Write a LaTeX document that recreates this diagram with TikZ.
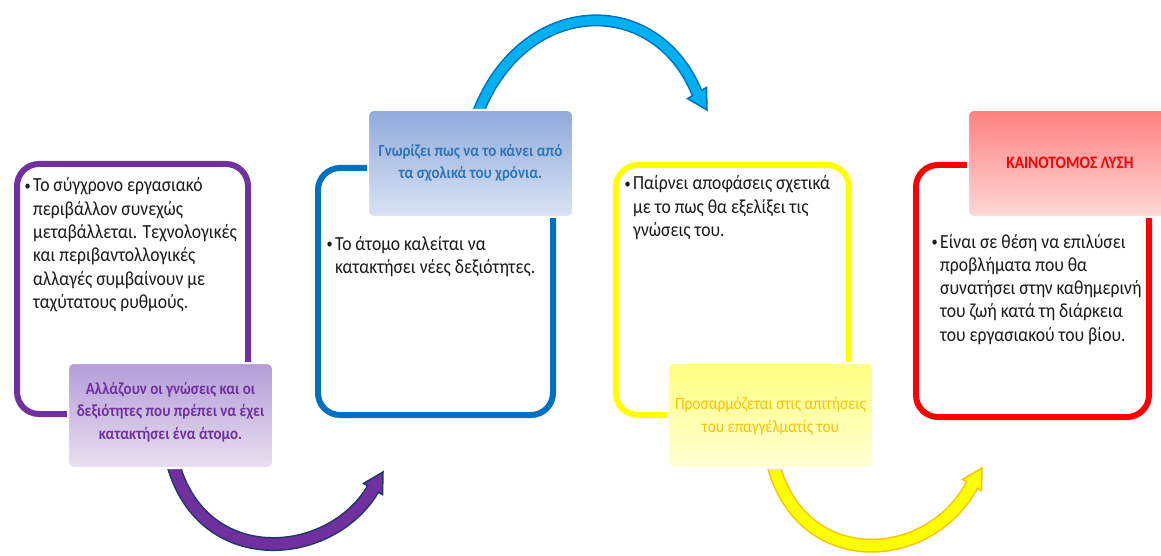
\documentclass[tikz,border=0pt]{standalone}
\usepackage{fontspec}
\setmainfont{Carlito}[FakeStretch=0.88]
\definecolor{cpur}{HTML}{7030A0}
\definecolor{cnavy}{HTML}{1F3864}
\definecolor{cblue}{HTML}{0070C0}
\definecolor{csky}{HTML}{00B0F0}
\definecolor{cyel}{HTML}{FFFF00}
\definecolor{corg}{HTML}{FFC000}
\definecolor{cred}{HTML}{FF0000}
\definecolor{cbtxt}{HTML}{2E75B6}
\definecolor{lpA}{HTML}{B49CD8}\definecolor{lpB}{HTML}{E8E0F0}
\definecolor{lbA}{HTML}{8FAADC}\definecolor{lbB}{HTML}{DAE3F3}
\definecolor{lyA}{HTML}{FFFF80}\definecolor{lyB}{HTML}{FFFFD5}
\definecolor{lrA}{HTML}{FF8080}\definecolor{lrB}{HTML}{FFD8D8}
\newcommand{\bodytext}[1]{\parbox[t]{230pt}{\raggedright #1}}
\tikzset{
  bigbox/.style={draw, line width=6pt, rounded corners=22pt, fill=white, inner sep=0pt},
  lbl/.style={rounded corners=6pt, draw=white, line width=2pt, inner sep=0pt, minimum width=205pt, shading angle=45},
  body/.style={font=\fontsize{20}{23.3}\selectfont, inner sep=0pt, anchor=base west, text=black!90},
  bul/.style={font=\fontsize{14}{14}\selectfont, inner sep=0pt, anchor=base west, text=black!90},
  lbltext/.style={align=center, inner sep=0pt, font=\bfseries\fontsize{17}{22.5}\selectfont},
}
\begin{document}
\begin{tikzpicture}[x=1pt,y=1pt]
\useasboundingbox (0,0) rectangle (1161,555);
\clip (0,0) rectangle (1161,555);
% ---------- arrows ----------
% purple
\coordinate (pa0) at (172,95);  \coordinate (pa1) at (200,-17);
\coordinate (pa2) at (330,-7);  \coordinate (pa3) at (373,66);
\coordinate (pa4) at (374.5,68.6); \coordinate (ptip) at (383,83);
\coordinate (pc1) at (363.5,71.6); \coordinate (pc2) at (382.5,60.4);
\draw[line width=14pt, cnavy] (pa0) .. controls (pa1) and (pa2) .. (pa3);
\filldraw[fill=cpur, draw=cnavy, line width=1.5pt] (pc1) -- (ptip) -- (pc2) -- cycle;
\draw[line width=11pt, cpur] (pa0) .. controls (pa1) and (pa2) .. (pa3) -- (pa4);
% blue
\coordinate (ba0) at (476,437);  \coordinate (ba1) at (520,560);
\coordinate (ba2) at (655,565);  \coordinate (ba3) at (697,462);
\coordinate (ba4) at (698.5,459.4); \coordinate (btip) at (707,445);
\coordinate (bc1) at (706.5,467.6); \coordinate (bc2) at (687.5,456.4);
\draw[line width=12pt, cblue] (ba0) .. controls (ba1) and (ba2) .. (ba3);
\filldraw[fill=csky, draw=cblue, line width=1.5pt] (bc1) -- (btip) -- (bc2) -- cycle;
\draw[line width=9pt, csky] (ba0) .. controls (ba1) and (ba2) .. (ba3) -- (ba4);
% yellow
\coordinate (ya0) at (772,95);  \coordinate (ya1) at (800,-20);
\coordinate (ya2) at (930,-10); \coordinate (ya3) at (972,70);
\coordinate (ya4) at (973.5,72.6); \coordinate (ytip) at (982,87);
\coordinate (yc1) at (962.5,75.6); \coordinate (yc2) at (981.5,64.4);
\draw[line width=14pt, corg] (ya0) .. controls (ya1) and (ya2) .. (ya3);
\filldraw[fill=cyel, draw=corg, line width=1.5pt] (yc1) -- (ytip) -- (yc2) -- cycle;
\draw[line width=11pt, cyel] (ya0) .. controls (ya1) and (ya2) .. (ya3) -- (ya4);
% ---------- big boxes ----------
\node[bigbox, draw=cpur, minimum width=231pt, minimum height=250pt] (b1) at (132.5,266) {};
\node[bigbox, draw=cblue, minimum width=235pt, minimum height=247pt] (b2) at (435.5,263.5) {};
\node[bigbox, draw=cyel, minimum width=233pt, minimum height=250pt] (b3) at (732.5,265) {};
\node[bigbox, draw=cred, minimum width=233pt, minimum height=252pt] (b4) at (1032.5,264) {};
% body texts
\node[bul] (u1) at (24.5,364.5) {•};
\node[body] (t1) at (33,363) {\bodytext{Το σύγχρονο εργασιακό\\περιβάλλον συνεχώς\\μεταβάλλεται. Τεχνολογικές\\και περιβαντολλογικές\\αλλαγές συμβαίνουν με\\ταχύτατους ρυθμούς.}};
\node[bul] (u2) at (326.5,306.5) {•};
\node[body] (t2) at (335,305) {\bodytext{Το άτομο καλείται να\\κατακτήσει νέες δεξιότητες.}};
\node[bul] (u3) at (624.5,366.5) {•};
\node[body] (t3) at (633,365) {\bodytext{Παίρνει αποφάσεις σχετικά\\με το πως θα εξελίξει τις\\γνώσεις του.}};
\node[bul] (u4) at (931.5,308.5) {•};
\node[body] (t4) at (940,307) {\bodytext{Είναι σε θέση να επιλύσει\\προβλήματα που θα\\συνατήσει στην καθημερινή\\του ζωή κατά τη διάρκεια\\του εργασιακού του βίου.}};
% ---------- labels ----------
\node[lbl, top color=lpA, bottom color=lpB, minimum height=105pt] (l1) at (170.5,139.5) {};
\node[lbltext, text=cpur] (lt1) at (170.5,143) {Αλλάζουν οι γνώσεις και οι\\δεξιότητες που πρέπει να έχει\\κατακτήσει ένα άτομο.};
\node[lbl, top color=lbA, bottom color=lbB, minimum height=107pt] (l2) at (470.5,391.5) {};
\node[lbltext, text=cbtxt] (lt2) at (470.5,392) {Γνωρίζει πως να το κάνει από\\τα σχολικά του χρόνια.};
\node[lbl, top color=lyA, bottom color=lyB, minimum height=105pt] (l3) at (770.5,139.5) {};
\node[lbltext, text=corg, font=\fontsize{17.5}{22.5}\selectfont] (lt3) at (770.5,139) {Προσαρμόζεται στις απιτήσεις\\του επαγγέλματίς του};
\node[lbl, top color=lrA, bottom color=lrB, minimum height=107pt] (l4) at (1070.5,391.5) {};
\node[lbltext, text=cred, font=\bfseries\fontsize{17.5}{20}\selectfont] (lt4) at (1070,392) {ΚΑΙΝΟΤΟΜΟΣ ΛΥΣΗ};
\end{tikzpicture}
\end{document}
